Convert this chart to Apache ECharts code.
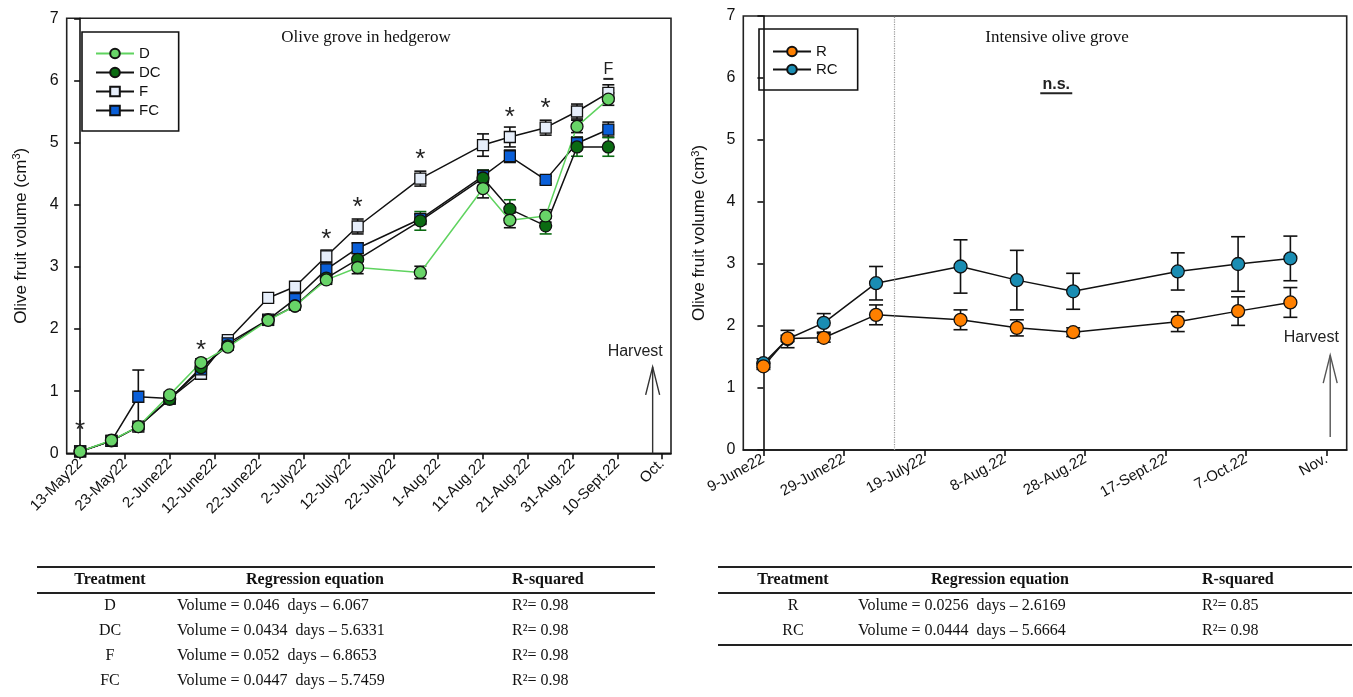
<!DOCTYPE html>
<html>
<head>
<meta charset="utf-8">
<script src="https://cdn.jsdelivr.net/npm/echarts@6/dist/echarts.min.js"></script>
<style>
html,body{margin:0;padding:0;background:#fff;}
#c{width:1353px;height:697px;}
</style>
</head>
<body>
<div id="c"></div>
<script>
// ---------- LEFT PANEL DATA (days after 13-May-22) ----------
const leftDays = [0, 7, 13, 20, 27, 33, 42, 48, 55, 62, 76, 90, 96, 104, 111, 118];
const D   = [0.03, 0.21, 0.43, 0.94, 1.46, 1.71, 2.14, 2.37, 2.79, 2.99, 2.91, 4.26, 3.75, 3.82, 5.26, 5.70];
const DC  = [0.03, 0.20, 0.43, 0.87, 1.38, 1.73, 2.15, 2.37, 2.82, 3.12, 3.74, 4.43, 3.93, 3.66, 4.93, 4.93];
const F   = [0.03, 0.20, 0.43, 0.88, 1.28, 1.82, 2.50, 2.68, 3.17, 3.65, 4.42, 4.96, 5.09, 5.24, 5.50, 5.80];
const FC  = [0.03, 0.20, 0.91, 0.88, 1.35, 1.77, 2.15, 2.48, 2.96, 3.30, 3.77, 4.46, 4.78, 4.40, 4.99, 5.21];
const D_err  = [0.02, 0.03, 0.05, 0.05, 0.06, 0.05, 0.08, 0.06, 0.07, 0.10, 0.10, 0.15, 0.12, 0.10, 0.10, 0.10];
const DC_err = [0.02, 0.03, 0.04, 0.04, 0.05, 0.05, 0.06, 0.06, 0.08, 0.10, 0.15, 0.12, 0.15, 0.13, 0.15, 0.15];
const F_err  = [0.02, 0.03, 0.04, 0.04, 0.06, 0.05, 0.05, 0.06, 0.10, 0.12, 0.12, 0.18, 0.16, 0.12, 0.12, 0.13];
const FC_err = [0.02, 0.03, 0.43, 0.04, 0.05, 0.05, 0.06, 0.06, 0.08, 0.08, 0.08, 0.10, 0.10, 0.06, 0.10, 0.12];
const leftTickDays = [0,10,20,30,40,50,60,70,80,90,100,110,120,130];
const leftTickLabels = ['13-May22','23-May22','2-June22','12-June22','22-June22','2-July22','12-July22','22-July22','1-Aug.22','11-Aug.22','21-Aug.22','31-Aug.22','10-Sept.22','Oct.'];
const leftStarDays = [0, 27, 55, 62, 76, 96, 104];
const leftStarY    = [0.42, 1.72, 3.50, 4.02, 4.78, 5.47, 5.60];
const leftFMark = [118, 6.17];
const leftHarvest = [127.9, 0, 1.39];
const leftHarvestText = [124, 1.63];

// ---------- RIGHT PANEL DATA (days after 9-June-22) ----------
const rightDays = [0, 6, 15, 28, 49, 63, 77, 103, 118, 131];
const R     = [1.35, 1.80, 1.81, 2.18, 2.10, 1.97, 1.90, 2.07, 2.24, 2.38];
const R_err = [0.05, 0.05, 0.07, 0.16, 0.16, 0.13, 0.07, 0.16, 0.23, 0.24];
const RC     = [1.40, 1.79, 2.05, 2.69, 2.96, 2.74, 2.56, 2.88, 3.00, 3.09];
const RC_err = [0.07, 0.14, 0.15, 0.27, 0.43, 0.48, 0.29, 0.30, 0.44, 0.36];
const rightTickDays = [0,20,40,60,80,100,120,140];
const rightTickLabels = ['9-June22','29-June22','19-July22','8-Aug.22','28-Aug.22','17-Sept.22','7-Oct.22','Nov.'];
const rightDotLine = 32.5;
const rightNS = [72.8, 5.9];
const rightHarvest = [140.9, 0.21, 1.53];
const rightHarvestText = [136.2, 1.81];

// ---------- TABLES ----------
const tableHeaders = ['Treatment', 'Regression equation', 'R-squared'];
const leftTreat = ['D','DC','F','FC'];
const leftEq = ['Volume = 0.046  days \u2013 6.067','Volume = 0.0434  days \u2013 5.6331','Volume = 0.052  days \u2013 6.8653','Volume = 0.0447  days \u2013 5.7459'];
const leftR2 = ['0.98','0.98','0.98','0.98'];
const rightTreat = ['R','RC'];
const rightEq = ['Volume = 0.0256  days \u2013 2.6169','Volume = 0.0444  days \u2013 5.6664'];
const rightR2 = ['0.85','0.98'];

const SANS = '"Liberation Sans", Arial, sans-serif';
const SERIF = '"Liberation Serif", "Times New Roman", serif';

const chart = echarts.init(document.getElementById('c'), null, {renderer:'canvas'});

function pairs(days, vals){ return days.map((d,i)=>[d, vals[i]]); }

function errSeries(id, gi, days, vals, errs, color, capW){
  return {
    type:'custom', id:id, xAxisIndex:gi, yAxisIndex:gi, silent:true, z:3,
    data: days.map((d,i)=>[d, vals[i]-errs[i], vals[i]+errs[i]]),
    encode:{x:0, y:[1,2]},
    renderItem:function(params, api){
      const x = api.value(0);
      const lo = api.coord([x, api.value(1)]);
      const hi = api.coord([x, api.value(2)]);
      const hw = capW/2;
      const st = {stroke:color, lineWidth:1.6};
      return {type:'group', children:[
        {type:'line', shape:{x1:lo[0],y1:lo[1],x2:hi[0],y2:hi[1]}, style:st},
        {type:'line', shape:{x1:lo[0]-hw,y1:lo[1],x2:lo[0]+hw,y2:lo[1]}, style:st},
        {type:'line', shape:{x1:hi[0]-hw,y1:hi[1],x2:hi[0]+hw,y2:hi[1]}, style:st}
      ]};
    }
  };
}

function lineSeries(name, gi, days, vals, symbol, size, fill, lineColor, lineW){
  return {
    type:'line', name:name, xAxisIndex:gi, yAxisIndex:gi, z:3,
    data: pairs(days, vals),
    symbol:symbol, symbolSize:size, showSymbol:true,
    lineStyle:{color:lineColor, width:lineW},
    itemStyle:{color:fill, borderColor:'#111', borderWidth:1.3},
    emphasis:{disabled:true}, animation:false
  };
}

function textSeries(gi, pts, text, font, underline, dy){
  return {
    type:'custom', xAxisIndex:gi, yAxisIndex:gi, silent:true, z:5,
    data: pts, encode:{x:0,y:1},
    renderItem:function(params, api){
      const c = api.coord([api.value(0), api.value(1)]);
      const kids = [{type:'text', x:c[0], y:c[1]+dy, style:{text:text, font:font, fill:'#222', align:'center', verticalAlign:'middle'}}];
      if (underline){
        kids.push({type:'line', shape:{x1:c[0]-underline/2, y1:c[1]+9, x2:c[0]+underline/2, y2:c[1]+9}, style:{stroke:'#222', lineWidth:2}});
      }
      return {type:'group', children:kids};
    }
  };
}

function harvestSeries(gi, arrow, txt, color){
  return {
    type:'custom', xAxisIndex:gi, yAxisIndex:gi, silent:true, z:5,
    data:[[arrow[0], arrow[1], arrow[2], txt[0], txt[1]]],
    encode:{x:0,y:1},
    renderItem:function(params, api){
      const b = api.coord([api.value(0), api.value(1)]);
      const t = api.coord([api.value(0), api.value(2)]);
      const tp = api.coord([api.value(3), api.value(4)]);
      const st = {stroke:color, lineWidth:1.4, fill:null};
      return {type:'group', children:[
        {type:'line', shape:{x1:b[0],y1:b[1],x2:t[0],y2:t[1]}, style:st},
        {type:'polyline', shape:{points:[[t[0]-7,t[1]+28],[t[0],t[1]],[t[0]+7,t[1]+28]]}, style:st},
        {type:'text', x:tp[0], y:tp[1], style:{text:'Harvest', font:'16px '+SANS, fill:'#222', align:'center', verticalAlign:'middle'}}
      ]};
    }
  };
}

function xAxisCfg(gi, min, max, ticks, labels, rot){
  return {
    type:'value', gridIndex:gi, min:min, max:max,
    axisLine:{show:true, onZero:false, lineStyle:{color:'#111', width:1.6}},
    axisTick:{show:true, inside:false, length:6, customValues:ticks, lineStyle:{color:'#111', width:1.6}},
    axisLabel:{show:true, customValues:ticks, rotate:rot, margin:8, fontSize:15, fontFamily:SANS, color:'#111',
      formatter:function(v){ const i = ticks.indexOf(v); return i>=0 ? labels[i] : ''; }},
    splitLine:{show:false}
  };
}
function yAxisCfg(gi, gap){
  return {
    type:'value', gridIndex:gi, min:0, max:7, interval:1,
    name:'Olive fruit volume (cm{sup|3})', nameLocation:'middle', nameGap:gap, nameRotate:90,
    nameTextStyle:{fontSize:17, fontFamily:SANS, color:'#111', rich:{sup:{fontSize:11, fontFamily:SANS, color:'#111', verticalAlign:'top', padding:[0,0,8,0]}}},
    axisLine:{show:true, lineStyle:{color:'#111', width:1.6}},
    axisTick:{show:true, inside:false, length:6, lineStyle:{color:'#111', width:1.6}},
    axisLabel:{fontSize:16, fontFamily:SANS, color:'#111', margin:8},
    splitLine:{show:false}
  };
}

// table graphics
function tableGraphics(x0, x1, cols, rowsTreat, rowsEq, rowsR2, bottomLine){
  const g = [];
  const ls = {stroke:'#222', lineWidth:2};
  g.push({type:'line', shape:{x1:x0,y1:567,x2:x1,y2:567}, style:ls});
  g.push({type:'line', shape:{x1:x0,y1:593,x2:x1,y2:593}, style:ls});
  const hf = 'bold 16px '+SERIF, rf = '16px '+SERIF;
  g.push({type:'text', x:cols[0], y:580, style:{text:tableHeaders[0], font:hf, fill:'#111', align:'center', verticalAlign:'middle'}});
  g.push({type:'text', x:cols[1], y:580, style:{text:tableHeaders[1], font:hf, fill:'#111', align:'center', verticalAlign:'middle'}});
  g.push({type:'text', x:cols[3], y:580, style:{text:tableHeaders[2], font:hf, fill:'#111', align:'left', verticalAlign:'middle'}});
  rowsTreat.forEach((t,i)=>{
    const y = 606 + i*25;
    g.push({type:'text', x:cols[0], y:y, style:{text:t, font:rf, fill:'#111', align:'center', verticalAlign:'middle'}});
    g.push({type:'text', x:cols[2], y:y, style:{text:rowsEq[i], font:rf, fill:'#111', align:'left', verticalAlign:'middle'}});
    g.push({type:'text', x:cols[3], y:y, style:{text:'R\u00B2= '+rowsR2[i], font:rf, fill:'#111', align:'left', verticalAlign:'middle'}});
  });
  if (bottomLine) g.push({type:'line', shape:{x1:x0,y1:bottomLine,x2:x1,y2:bottomLine}, style:ls});
  return g;
}

const graphics = []
  .concat([
    {type:'text', x:366, y:38, style:{text:'Olive grove in hedgerow', font:'17px '+SERIF, fill:'#111', align:'center', verticalAlign:'middle'}},
    {type:'text', x:1057, y:38, style:{text:'Intensive olive grove', font:'17px '+SERIF, fill:'#111', align:'center', verticalAlign:'middle'}}
  ])
  .concat(tableGraphics(37, 655, [110, 315, 177, 512], leftTreat, leftEq, leftR2, null))
  .concat(tableGraphics(718, 1352, [793, 1000, 858, 1202], rightTreat, rightEq, rightR2, 645));

const option = {
  animation:false,
  backgroundColor:'#fff',
  grid:[
    {left:66.7, top:18.3, width:604.3, height:435, show:true, borderColor:'#222', borderWidth:1.6, containLabel:false},
    {left:743.3, top:16, width:603.4, height:434, show:true, borderColor:'#222', borderWidth:1.6, containLabel:false}
  ],
  xAxis:[ xAxisCfg(0, -3, 132, leftTickDays, leftTickLabels, 45), xAxisCfg(1, -5, 145, rightTickDays, rightTickLabels, 29) ],
  yAxis:[ yAxisCfg(0, 36), yAxisCfg(1, 34) ],
  legend:[
    {data:['D','DC','F','FC'], left:82, top:32, orient:'vertical', borderColor:'#111', borderWidth:1.6,
     padding:[13,18,12,13], itemWidth:38, itemHeight:12, itemGap:2, textStyle:{fontSize:15, fontFamily:SANS, color:'#111', lineHeight:17},
     selectedMode:false},
    {data:['R','RC'], left:759, top:29, orient:'vertical', borderColor:'#111', borderWidth:1.6,
     padding:[14,20,12,13], itemWidth:38, itemHeight:12, itemGap:1, textStyle:{fontSize:15, fontFamily:SANS, color:'#111', lineHeight:17},
     selectedMode:false}
  ],
  graphic: graphics,
  series:[
    errSeries('eF', 0, leftDays, F, F_err, '#111', 12),
    lineSeries('F', 0, leftDays, F, 'rect', 11, '#e6eefa', '#111', 1.5),
    errSeries('eFC', 0, leftDays, FC, FC_err, '#111', 12),
    lineSeries('FC', 0, leftDays, FC, 'rect', 11, '#0a5fd8', '#111', 1.5),
    errSeries('eDC', 0, leftDays, DC, DC_err, '#0b6b12', 12),
    lineSeries('DC', 0, leftDays, DC, 'circle', 12, '#0b6b12', '#111', 1.5),
    errSeries('eD', 0, leftDays, D, D_err, '#111', 12),
    lineSeries('D', 0, leftDays, D, 'circle', 12, '#68d468', '#5fd35f', 1.5),
    textSeries(0, pairs(leftStarDays, leftStarY), '*', '26px '+SANS, 0, 4),
    textSeries(0, [leftFMark], 'F', '16px '+SANS, 10, 0),
    harvestSeries(0, leftHarvest, leftHarvestText, '#333'),

    errSeries('eRC', 1, rightDays, RC, RC_err, '#111', 14),
    lineSeries('RC', 1, rightDays, RC, 'circle', 13, '#1a8db3', '#111', 1.5),
    errSeries('eR', 1, rightDays, R, R_err, '#111', 14),
    Object.assign(lineSeries('R', 1, rightDays, R, 'circle', 13, '#ff8000', '#111', 1.5), {
      markLine:{silent:true, symbol:'none', label:{show:false}, lineStyle:{color:'#999', type:'dotted', width:1.2},
        data:[{xAxis:rightDotLine}]}
    }),
    textSeries(1, [rightNS], 'n.s.', 'bold 16px '+SANS, 32, 0),
    harvestSeries(1, rightHarvest, rightHarvestText, '#555')
  ]
};
chart.setOption(option);
</script>
</body>
</html>
